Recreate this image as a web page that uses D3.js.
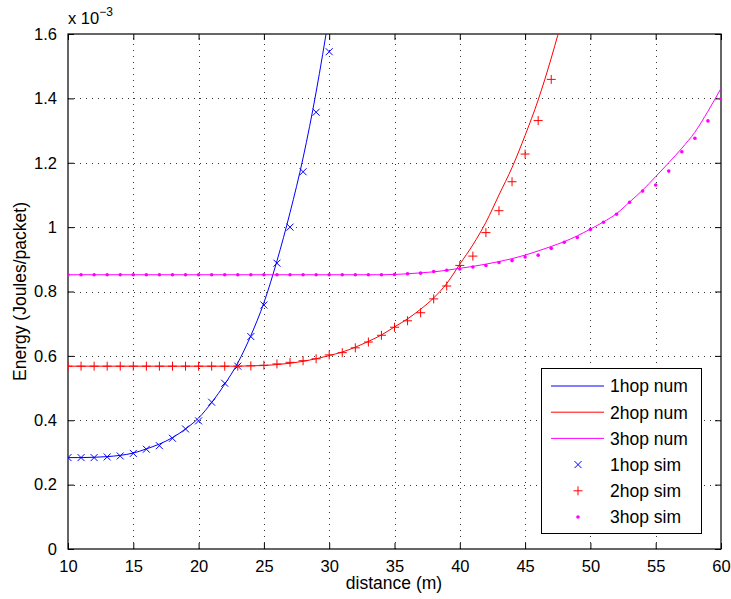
<!DOCTYPE html>
<html>
<head>
<meta charset="utf-8">
<script src="https://cdn.jsdelivr.net/npm/d3@7"></script>
<style>
  html, body { margin: 0; padding: 0; background: #fff; }
  svg { display: block; font-family: "Liberation Sans", Arial, Helvetica, sans-serif; }
</style>
</head>
<body>
<svg id="chart" width="731" height="599"></svg>
<script>
// Energy per packet (in units of 1e-3 J) against hop distance (m)

// 1-hop: numerical curve and simulation
const dist1 = [10, 11, 12, 13, 14, 15, 16, 17, 18, 19, 20, 21, 22, 23, 24, 25, 26, 27, 28, 29, 30];
const num1  = [0.284, 0.284, 0.285, 0.287, 0.291, 0.298, 0.311, 0.326, 0.346, 0.373, 0.407, 0.455, 0.512, 0.578, 0.663, 0.765, 0.895, 1.045, 1.215, 1.42, 1.66];
const sim1  = [0.284, 0.284, 0.284, 0.286, 0.289, 0.297, 0.310, 0.321, 0.344, 0.373, 0.398, 0.456, 0.515, 0.568, 0.660, 0.758, 0.888, 1.000, 1.172, 1.357, 1.545];

// 2-hop
const dist2 = [10, 11, 12, 13, 14, 15, 16, 17, 18, 19, 20, 21, 22, 23, 24, 25, 26, 27, 28,
               29, 30, 31, 32, 33, 34, 35, 36, 37, 38, 39, 40, 41, 42, 43, 44, 45, 46, 47, 48];
const num2  = [0.568, 0.568, 0.568, 0.568, 0.568, 0.568, 0.568, 0.568, 0.568, 0.568, 0.568, 0.568, 0.568, 0.568, 0.569, 0.570, 0.573, 0.577, 0.583,
               0.591, 0.601, 0.612, 0.627, 0.645, 0.665, 0.690, 0.715, 0.745, 0.780, 0.825, 0.885, 0.945, 1.015, 1.100, 1.185, 1.285, 1.395, 1.525, 1.670];
const sim2  = [0.568, 0.568, 0.568, 0.568, 0.568, 0.568, 0.568, 0.568, 0.568, 0.568, 0.568, 0.568, 0.568, 0.568, 0.569, 0.571, 0.575, 0.580, 0.585,
               0.591, 0.603, 0.610, 0.625, 0.643, 0.664, 0.689, 0.709, 0.734, 0.777, 0.817, 0.881, 0.910, 0.983, 1.051, 1.141, 1.227, 1.331, 1.459, null];

// 3-hop
const dist3 = [10, 11, 12, 13, 14, 15, 16, 17, 18, 19, 20, 21, 22, 23, 24, 25, 26, 27, 28, 29, 30, 31, 32, 33, 34, 35,
               36, 37, 38, 39, 40, 41, 42, 43, 44, 45, 46, 47, 48, 49, 50, 51, 52, 53, 54, 55, 56, 57, 58, 59, 60];
const num3  = [0.852, 0.852, 0.852, 0.852, 0.852, 0.852, 0.852, 0.852, 0.852, 0.852, 0.852, 0.852, 0.852, 0.852, 0.852, 0.852, 0.852, 0.852, 0.852, 0.852, 0.852, 0.852, 0.852, 0.852, 0.852, 0.853,
               0.855, 0.858, 0.861, 0.866, 0.872, 0.878, 0.885, 0.893, 0.902, 0.913, 0.926, 0.940, 0.955, 0.973, 0.994, 1.016, 1.042, 1.078, 1.115, 1.157, 1.200, 1.245, 1.295, 1.360, 1.431];
const sim3  = [0.852, 0.852, 0.852, 0.852, 0.852, 0.852, 0.852, 0.852, 0.852, 0.852, 0.852, 0.852, 0.852, 0.852, 0.852, 0.852, 0.852, 0.852, 0.852, 0.852, 0.852, 0.852, 0.852, 0.852, 0.852, 0.853,
               0.855, 0.857, 0.862, 0.866, 0.870, 0.876, 0.881, 0.890, 0.896, 0.907, 0.913, 0.934, 0.953, 0.968, 0.993, 1.015, 1.040, 1.077, 1.112, 1.131, 1.174, 1.234, 1.276, 1.330, 1.399];

const xTicks = [10, 15, 20, 25, 30, 35, 40, 45, 50, 55, 60];
const yTicks = [0, 0.2, 0.4, 0.6, 0.8, 1.0, 1.2, 1.4, 1.6];
const yTickLabels = ["0", "0.2", "0.4", "0.6", "0.8", "1", "1.2", "1.4", "1.6"];

const seriesNames = ["1hop num", "2hop num", "3hop num", "1hop sim", "2hop sim", "3hop sim"];
const colors = { one: "#0000ff", two: "#ff0000", three: "#ff00ff" };

const svg = d3.select("#chart");
const pLeft = 68, pRight = 721, pTop = 34, pBottom = 549;

const x = d3.scaleLinear().domain([10, 60]).range([pLeft, pRight]);
const y = d3.scaleLinear().domain([0, 1.6]).range([pBottom, pTop]);

svg.append("defs").append("clipPath").attr("id", "plotClip")
  .append("rect").attr("x", pLeft).attr("y", pTop).attr("width", pRight - pLeft).attr("height", pBottom - pTop);

// dotted grid
const grid = svg.append("g").attr("stroke", "#333").attr("stroke-width", 1).attr("stroke-dasharray", "1,5");
grid.selectAll(".gx").data(xTicks.slice(1, -1)).join("line")
  .attr("x1", d => Math.round(x(d)) + 0.5).attr("x2", d => Math.round(x(d)) + 0.5)
  .attr("y1", pBottom).attr("y2", pTop);
grid.selectAll(".gy").data(yTicks.slice(1, -1)).join("line")
  .attr("y1", d => Math.round(y(d)) + 0.5).attr("y2", d => Math.round(y(d)) + 0.5)
  .attr("x1", pLeft).attr("x2", pRight);

// axes with inward ticks on all four sides
const tickLen = 6;
const fontSize = 16.5;
const titleSize = 17.5;
const axBottom = d3.axisBottom(x).tickValues(xTicks).tickSizeInner(-tickLen).tickSizeOuter(0).tickPadding(tickLen + 5);
const axLeft = d3.axisLeft(y).tickValues(yTicks).tickFormat((d, i) => yTickLabels[i]).tickSizeInner(-tickLen).tickSizeOuter(0).tickPadding(tickLen + 5);
const axTop = d3.axisTop(x).tickValues(xTicks).tickSizeInner(-tickLen).tickSizeOuter(0).tickFormat("");
const axRight = d3.axisRight(y).tickValues(yTicks).tickSizeInner(-tickLen).tickSizeOuter(0).tickFormat("");

function styleAxis(g) {
  g.selectAll("path").remove();
  g.selectAll("line").attr("stroke", "#000");
  g.selectAll("text").attr("fill", "#000").style("font-size", fontSize + "px").style("font-family", "Liberation Sans, Arial, sans-serif");
}
svg.append("g").attr("transform", `translate(0,${pBottom})`).call(axBottom).call(styleAxis);
svg.append("g").attr("transform", `translate(${pLeft},0)`).call(axLeft).call(styleAxis);
svg.append("g").attr("transform", `translate(0,${pTop})`).call(axTop).call(styleAxis);
svg.append("g").attr("transform", `translate(${pRight},0)`).call(axRight).call(styleAxis);

// plot frame
svg.append("rect").attr("x", pLeft).attr("y", pTop).attr("width", pRight - pLeft).attr("height", pBottom - pTop)
  .attr("fill", "none").attr("stroke", "#000").attr("stroke-width", 1.2);

// exponent note
const expo = svg.append("text").attr("x", pLeft).attr("y", 24).attr("font-size", fontSize).attr("fill", "#000");
expo.append("tspan").text("x 10");
expo.append("tspan").attr("dy", -8).attr("font-size", 12).text("−3");

// curves
const plot = svg.append("g").attr("clip-path", "url(#plotClip)");
const lineGen = (xs) => d3.line().x((d, i) => x(xs[i])).y(d => y(d)).curve(d3.curveMonotoneX);

plot.append("path").datum(num1).attr("d", lineGen(dist1)).attr("fill", "none").attr("stroke", colors.one).attr("stroke-width", 1);
plot.append("path").datum(num2).attr("d", lineGen(dist2)).attr("fill", "none").attr("stroke", colors.two).attr("stroke-width", 1);
plot.append("path").datum(num3).attr("d", lineGen(dist3)).attr("fill", "none").attr("stroke", colors.three).attr("stroke-width", 1);

// markers
function crossPath(cx, cy, r) { return `M${cx - r},${cy - r}L${cx + r},${cy + r}M${cx - r},${cy + r}L${cx + r},${cy - r}`; }
function plusPath(cx, cy, r) { return `M${cx - r},${cy}L${cx + r},${cy}M${cx},${cy - r}L${cx},${cy + r}`; }

plot.append("g").selectAll("path").data(sim1.map((v, i) => [dist1[i], v]).filter(d => d[1] != null)).join("path")
  .attr("d", d => crossPath(x(d[0]), y(d[1]), 3.5)).attr("stroke", colors.one).attr("stroke-width", 1).attr("fill", "none");
plot.append("g").selectAll("path").data(sim2.map((v, i) => [dist2[i], v]).filter(d => d[1] != null)).join("path")
  .attr("d", d => plusPath(x(d[0]), y(d[1]), 4.5)).attr("stroke", colors.two).attr("stroke-width", 1).attr("fill", "none");
plot.append("g").selectAll("circle").data(sim3.map((v, i) => [dist3[i], v]).filter(d => d[1] != null)).join("circle")
  .attr("cx", d => x(d[0])).attr("cy", d => y(d[1])).attr("r", 1.8).attr("fill", colors.three);

// axis titles
svg.append("text").attr("x", 394).attr("y", 589).attr("text-anchor", "middle")
  .attr("font-size", titleSize).attr("fill", "#000").text("distance (m)");
svg.append("text").attr("transform", `translate(26,${(pTop + pBottom) / 2}) rotate(-90)`).attr("text-anchor", "middle")
  .attr("font-size", titleSize).attr("fill", "#000").text("Energy (Joules/packet)");

// legend
const lg = svg.append("g");
const lgX = 541, lgY = 368, lgW = 160, lgH = 165, rowH = 26.2, row0 = 386;
lg.append("rect").attr("x", lgX + 0.5).attr("y", lgY + 0.5).attr("width", lgW).attr("height", lgH)
  .attr("fill", "#fff").attr("stroke", "#000").attr("stroke-width", 1);
const lgColors = [colors.one, colors.two, colors.three, colors.one, colors.two, colors.three];
seriesNames.forEach((name, i) => {
  const cy = row0 + i * rowH;
  if (i < 3) {
    lg.append("line").attr("x1", 551).attr("x2", 604).attr("y1", cy).attr("y2", cy)
      .attr("stroke", lgColors[i]).attr("stroke-width", 1);
  } else if (i === 3) {
    lg.append("path").attr("d", crossPath(578, cy, 3.5)).attr("stroke", lgColors[i]).attr("fill", "none");
  } else if (i === 4) {
    lg.append("path").attr("d", plusPath(578, cy, 4.5)).attr("stroke", lgColors[i]).attr("fill", "none");
  } else {
    lg.append("circle").attr("cx", 578).attr("cy", cy).attr("r", 1.8).attr("fill", lgColors[i]);
  }
  lg.append("text").attr("x", 610).attr("y", cy).attr("dy", "0.36em").attr("font-size", 17.5).attr("fill", "#000").text(name);
});
</script>
</body>
</html>
